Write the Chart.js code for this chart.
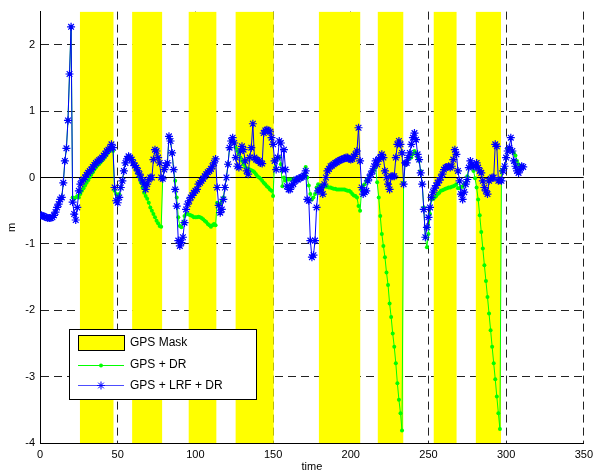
<!DOCTYPE html>
<html>
<head>
<meta charset="utf-8">
<script src="https://cdn.jsdelivr.net/npm/chart.js@4"></script>
<style>
  html, body { margin: 0; padding: 0; background: #fff; }
  canvas { display: block; }
</style>
</head>
<body>
<canvas id="chart" width="598" height="474"></canvas>
<script>
// GPS mask intervals (time)
const maskStart = [25.6, 59.3, 95.7, 125.9, 179.5, 217.4, 253.4, 280.5];
const maskEnd   = [47.3, 78.6, 113.5, 150.4, 206.1, 233.8, 268.1, 296.8];

// GPS + LRF + DR, one sample per time unit starting at 0
const lrfDr = [
  -0.57, -0.57, -0.58, -0.59, -0.6, -0.61, -0.61, -0.61, -0.6, -0.57,
  -0.52, -0.45, -0.4, -0.33, -0.3, -0.08, 0.25, 0.44, 0.86, 1.56,
  2.27, -0.37, -0.55, -0.64, -0.45, -0.2, -0.1, -0.05, -0.03, 0.0,
  0.04, 0.07, 0.1, 0.12, 0.16, 0.19, 0.22, 0.24, 0.26, 0.28,
  0.3, 0.33, 0.36, 0.4, 0.42, 0.44, 0.5, 0.45, -0.15, -0.35,
  -0.38, -0.3, -0.15, -0.05, 0.1, 0.22, 0.28, 0.32, 0.3, 0.27,
  0.22, 0.18, 0.15, 0.1, 0.05, 0.0, -0.05, -0.1, -0.18, -0.1,
  -0.03, 0.0, 0.0, 0.27, 0.42, 0.4, 0.3, 0.22, 0.0, -0.02,
  0.12, 0.18, 0.22, 0.62, 0.55, 0.37, 0.12, -0.18, -0.43, -0.95,
  -1.03, -0.98, -0.9, -0.68, -0.48, -0.4, -0.35, -0.3, -0.27, -0.23,
  -0.2, -0.18, -0.1, -0.08, -0.05, -0.02, 0.02, 0.05, 0.08, 0.1,
  0.13, 0.17, 0.22, 0.28, -0.15, -0.42, -0.53, -0.48, -0.33, -0.15,
  0.0, 0.2, 0.45, 0.55, 0.6, 0.52, 0.3, 0.17, 0.15, 0.4,
  0.47, 0.42, 0.25, 0.1, 0.05, 0.3, 0.45, 0.81, 0.3, 0.27,
  0.26, 0.25, 0.22, 0.21, 0.67, 0.71, 0.72, 0.71, 0.69, 0.6,
  0.5, 0.25, 0.12, 0.3, 0.55, 0.52, 0.12, 0.42, 0.12, -0.13,
  -0.18, -0.18, -0.12, -0.1, -0.05, -0.03, -0.03, -0.01, 0.0, 0.01,
  0.03, 0.1, -0.33, -0.35, -0.95, -1.2, -1.17, -0.95, -0.45, -0.2,
  -0.18, -0.15, -0.25, -0.1, 0.0, 0.1, 0.13, 0.17, 0.18, 0.2,
  0.22, 0.23, 0.25, 0.26, 0.27, 0.28, 0.29, 0.3, 0.3, 0.28,
  0.27, 0.28, 0.32, 0.35, 0.4, 0.75, 0.25, -0.15, -0.25, -0.22,
  -0.2, -0.05, 0.0, 0.05, 0.1, 0.17, 0.25, 0.2, 0.28, 0.3,
  0.35, 0.3, 0.1, 0.0, -0.1, -0.18, 0.02, 0.02, 0.02, 0.3,
  0.5, 0.55, 0.5, 0.37, -0.1, 0.22, 0.22, 0.3, 0.37, 0.5,
  0.6, 0.67, 0.57, 0.35, 0.27, 0.07, -0.1, -0.48, -0.9, -0.75,
  -0.6, -0.45, -0.3, -0.22, -0.16, -0.12, -0.08, -0.04, 0.0, 0.05,
  0.12, 0.15, 0.16, 0.17, 0.15, 0.17, 0.27, 0.42, 0.35, 0.1,
  -0.05, -0.25, -0.33, -0.22, -0.1, -0.03, 0.15, 0.25, 0.2, 0.17,
  0.17, 0.22, 0.15, 0.1, 0.07, -0.05, -0.15, -0.2, -0.25, -0.05,
  -0.02, 0.0, 0.0, 0.5, 0.47, -0.05, -0.04, -0.05, 0.1, 0.17,
  0.3, 0.4, 0.45, 0.6, 0.4, 0.25, 0.17, 0.1, 0.07, 0.12,
  0.17, 0.16
];

// GPS + DR, same sampling
const gpsDr = [
  -0.57, -0.57, -0.58, -0.59, -0.6, -0.61, -0.61, -0.61, -0.6, -0.57,
  -0.52, -0.45, -0.4, -0.33, -0.3, -0.08, 0.25, 0.44, 0.86, 1.56,
  2.27, -0.3, -0.32, -0.3, -0.28, -0.3, -0.25, -0.2, -0.16, -0.12,
  -0.08, -0.04, 0.0, 0.04, 0.08, 0.12, 0.15, 0.18, 0.2, 0.23,
  0.26, 0.29, 0.32, 0.35, 0.38, 0.41, 0.43, 0.4, -0.2, -0.25,
  -0.27, -0.25, -0.15, -0.05, 0.1, 0.22, 0.28, 0.32, 0.3, 0.27,
  0.22, 0.17, 0.12, 0.07, 0.0, -0.07, -0.15, -0.23, -0.28, -0.32,
  -0.38, -0.45, -0.5, -0.55, -0.6, -0.65, -0.69, -0.73, -0.74, 0.0,
  0.12, 0.18, 0.22, 0.6, 0.55, 0.37, 0.12, -0.05, -0.3, -0.6,
  -0.73, -0.75, -0.68, -0.58, -0.55, -0.55, -0.56, -0.57, -0.58, -0.6,
  -0.6, -0.6, -0.59, -0.6, -0.61, -0.63, -0.65, -0.67, -0.7, -0.72,
  -0.74, -0.72, -0.7, -0.72, -0.38, -0.4, -0.4, -0.35, -0.3, -0.15,
  0.0, 0.2, 0.45, 0.55, 0.6, 0.52, 0.45, 0.4, 0.35, 0.3,
  0.25, 0.2, 0.16, 0.14, 0.13, 0.12, 0.11, 0.1, 0.08, 0.05,
  0.02, 0.0, -0.02, -0.05, -0.08, -0.1, -0.13, -0.15, -0.18, -0.2,
  -0.28, 0.25, 0.28, 0.3, 0.3, 0.2, -0.13, 0.0, -0.05, -0.03,
  -0.03, -0.03, -0.03, -0.03, -0.03, -0.03, -0.03, -0.01, 0.0, 0.01,
  0.05, 0.16, 0.0, -0.12, -0.25, -0.33, -0.3, -0.25, -0.15, -0.1,
  -0.12, -0.12, -0.13, -0.13, -0.14, -0.14, -0.15, -0.15, -0.16, -0.17,
  -0.17, -0.18, -0.18, -0.18, -0.18, -0.18, -0.18, -0.19, -0.2, -0.2,
  -0.22, -0.25, -0.27, -0.28, -0.3, -0.43, -0.5, -0.18, -0.12, -0.1,
  -0.05, -0.02, 0.02, 0.07, 0.1, 0.12, 0.15, -0.07, -0.3, -0.58,
  -0.85, -1.03, -1.2, -1.43, -1.62, -1.9, -2.1, -2.35, -2.55, -2.8,
  -3.1, -3.35, -3.55, -3.81, -0.08, 0.22, 0.22, 0.27, 0.3, 0.3,
  0.35, 0.4, 0.37, 0.3, 0.25, 0.1, -0.1, -0.45, -0.9, -1.05,
  -0.85, -0.55, -0.33, -0.32, -0.3, -0.28, -0.25, -0.23, -0.2, -0.19,
  -0.18, -0.17, -0.16, -0.15, -0.15, -0.14, -0.13, -0.12, -0.1, -0.16,
  -0.16, -0.14, -0.14, -0.1, -0.08, 0.02, 0.15, 0.15, 0.15, 0.1,
  -0.01, -0.15, -0.33, -0.57, -0.82, -1.07, -1.32, -1.56, -1.8, -2.05,
  -2.3, -2.55, -2.8, -3.04, -3.3, -3.55, -3.79, 0.1, 0.12, 0.15,
  0.3, 0.42, 0.45, 0.42, 0.4, 0.37, 0.33, 0.25, 0.2, 0.17,
  0.17, 0.16
];

const xTicks = [0, 50, 100, 150, 200, 250, 300, 350];
const yTicks = [-4, -3, -2, -1, 0, 1, 2];
const yMin = -4, yMax = 2.5;

const FONT = '"Liberation Sans", Arial, sans-serif';
const BLUE = '#0000ff';
const GREEN = '#00ff00';
const YELLOW = '#ffff00';

// mask bands as a filled outline down to the axis floor
const maskPts = [];
maskStart.forEach((s, i) => {
  maskPts.push({x: s, y: yMin}, {x: s, y: yMax}, {x: maskEnd[i], y: yMax}, {x: maskEnd[i], y: yMin});
});

const toPts = arr => arr.map((v, i) => ({x: i, y: v}));

// draws the axis titles and the boxed legend inside the plot
const overlay = {
  id: 'overlay',
  afterDraw(chart) {
    const ctx = chart.ctx;
    const a = chart.chartArea;
    ctx.save();
    ctx.fillStyle = '#000';
    ctx.font = '11px ' + FONT;
    ctx.textAlign = 'center';
    ctx.textBaseline = 'middle';
    ctx.fillText('time', (a.left + a.right) / 2, 467);
    ctx.save();
    ctx.translate(12, (a.top + a.bottom) / 2);
    ctx.rotate(-Math.PI / 2);
    ctx.fillText('m', 0, 0);
    ctx.restore();

    // legend box
    const bx = 69.5, by = 329.5, bw = 187, bh = 70;
    ctx.fillStyle = '#fff';
    ctx.fillRect(bx, by, bw, bh);
    ctx.strokeStyle = '#000';
    ctx.lineWidth = 1;
    ctx.setLineDash([]);
    ctx.strokeRect(bx, by, bw, bh);

    ctx.fillStyle = YELLOW;
    ctx.fillRect(78.5, 335.5, 46, 15);
    ctx.strokeRect(78.5, 335.5, 46, 15);

    ctx.strokeStyle = GREEN;
    ctx.beginPath(); ctx.moveTo(78, 365.5); ctx.lineTo(124, 365.5); ctx.stroke();
    ctx.fillStyle = GREEN;
    ctx.beginPath(); ctx.arc(101, 365.5, 2, 0, Math.PI * 2); ctx.fill();

    ctx.strokeStyle = '#4d4dff';
    ctx.beginPath(); ctx.moveTo(78, 385.5); ctx.lineTo(124, 385.5); ctx.stroke();
    ctx.strokeStyle = BLUE;
    Chart.helpers.drawPoint(ctx, {pointStyle: 'star', radius: 4, borderWidth: 1.2}, 101, 385.5);

    ctx.fillStyle = '#000';
    ctx.font = '12px ' + FONT;
    ctx.textAlign = 'left';
    ctx.fillText('GPS Mask', 130, 343);
    ctx.fillText('GPS + DR', 130, 365);
    ctx.fillText('GPS + LRF + DR', 130, 386);
    ctx.restore();
  }
};

new Chart(document.getElementById('chart'), {
  type: 'line',
  data: {
    datasets: [
      {
        label: 'GPS + LRF + DR',
        data: toPts(lrfDr),
        borderColor: BLUE,
        backgroundColor: BLUE,
        borderWidth: 1,
        pointStyle: 'star',
        pointRadius: 4,
        pointBorderWidth: 1.2,
        pointBorderColor: BLUE,
        order: 0
      },
      {
        label: 'GPS + DR',
        data: toPts(gpsDr),
        borderColor: GREEN,
        backgroundColor: GREEN,
        borderWidth: 1,
        pointStyle: 'circle',
        pointRadius: 2,
        pointBorderWidth: 0,
        order: 1
      },
      {
        label: 'zero',
        data: [{x: 0, y: 0}, {x: 350, y: 0}],
        borderColor: '#000',
        borderWidth: 1,
        pointRadius: 0,
        order: 2
      },
      {
        label: 'GPS Mask',
        data: maskPts,
        borderWidth: 0,
        borderColor: YELLOW,
        backgroundColor: YELLOW,
        pointRadius: 0,
        fill: 'start',
        order: 3
      }
    ]
  },
  options: {
    responsive: false,
    animation: false,
    devicePixelRatio: 1,
    layout: { padding: { top: 10, right: 10, left: 0, bottom: 0 } },
    plugins: { legend: { display: false }, tooltip: { enabled: false } },
    elements: { line: { tension: 0 } },
    scales: {
      x: {
        type: 'linear',
        min: 0,
        max: 350,
        afterFit(s) { s.height = 31; },
        afterBuildTicks(s) { s.ticks = xTicks.map(v => ({value: v})); },
        ticks: { padding: 5, color: '#000', font: { family: FONT, size: 11 } },
        grid: { color: '#222', lineWidth: 1, drawTicks: false },
        border: { display: true, color: '#000', width: 1, dash: [8, 5] }
      },
      y: {
        type: 'linear',
        min: yMin,
        max: yMax,
        afterFit(s) { s.width = 40; },
        afterBuildTicks(s) { s.ticks = yTicks.map(v => ({value: v})); },
        ticks: { padding: 5, color: '#000', font: { family: FONT, size: 11 } },
        grid: { color: '#222', lineWidth: 1, drawTicks: false },
        border: { display: true, color: '#000', width: 1, dash: [8, 5] }
      }
    }
  },
  plugins: [overlay]
});
</script>
</body>
</html>
